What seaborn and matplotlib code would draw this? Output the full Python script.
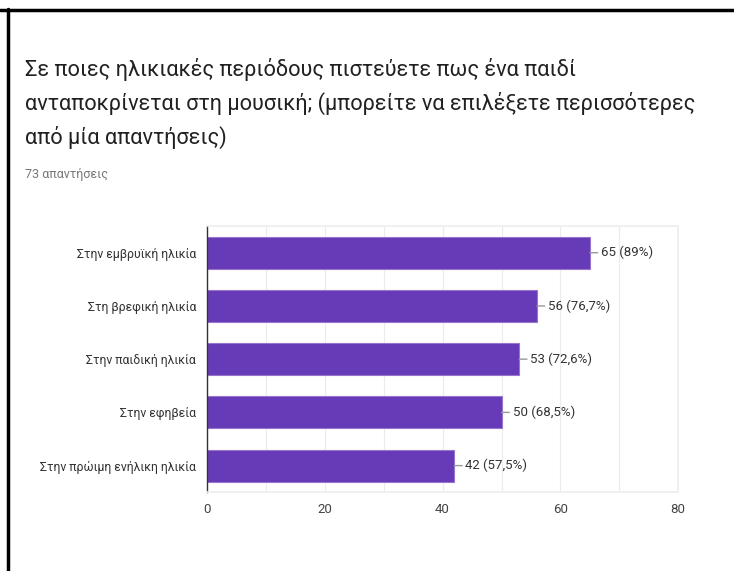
import matplotlib
matplotlib.use('Agg')
import matplotlib.pyplot as plt
from matplotlib.lines import Line2D
import seaborn as sns
import pandas as pd

# Δεδομένα
CATEGORIES = ['Στην εμβρυϊκή ηλικία', 'Στη βρεφική ηλικία', 'Στην παιδική ηλικία',
              'Στην εφηβεία', 'Στην πρώιμη ενήλικη ηλικία']
COUNTS = [65, 56, 53, 50, 42]
PERCENTS = ['89%', '76,7%', '72,6%', '68,5%', '57,5%']
X_TICKS = [0, 20, 40, 60, 80]

TITLE = ('Σε ποιες ηλικιακές περιόδους πιστεύετε πως ένα παιδί\n'
         'ανταποκρίνεται στη μουσική; (μπορείτε να επιλέξετε περισσότερες\n'
         'από μία απαντήσεις)')
SUBTITLE = '73 απαντήσεις'

PURPLE = '#673ab7'


def main():
    sns.set_theme(style='white')
    plt.rcParams['font.family'] = ['Roboto', 'DejaVu Sans']

    df = pd.DataFrame({'category': CATEGORIES, 'count': COUNTS})

    fig = plt.figure(figsize=(7.34, 5.71), dpi=100)
    ax = fig.add_axes([0.282, 0.138, 0.642, 0.466])

    sns.barplot(data=df, x='count', y='category', orient='h', color=PURPLE,
                saturation=1, width=0.6, edgecolor='#9575cd', linewidth=0.8, ax=ax)

    # Сетка
    ax.set_xlim(0, 80)
    ax.set_xticks(X_TICKS)
    ax.set_xticks(range(0, 81, 10), minor=True)
    ax.grid(axis='x', which='both', color='#ececec', linewidth=0.8)
    ax.set_axisbelow(True)
    ax.tick_params(axis='x', which='both', length=0, labelsize=9.5, colors='#444444', pad=8)
    ax.tick_params(axis='y', length=0, labelsize=8.8, colors='#333333', pad=8)
    ax.set_xlabel('')
    ax.set_ylabel('')

    for side in ['top', 'right', 'bottom']:
        ax.spines[side].set_color('#eeeeee')
        ax.spines[side].set_linewidth(1.2)
    ax.spines['left'].set_color('#333333')
    ax.spines['left'].set_linewidth(1.0)

    # Подписи значений
    for i, (cnt, pct) in enumerate(zip(COUNTS, PERCENTS)):
        ax.annotate(f'{cnt} ({pct})', xy=(cnt, i), xytext=(8, 0), textcoords='offset points',
                    va='center', ha='left', fontsize=9.5, color='#333333',
                    arrowprops=dict(arrowstyle='-', color='#999999', lw=1.0,
                                    shrinkA=0, shrinkB=0))

    fig.text(0.034, 0.898, TITLE, ha='left', va='top', fontsize=15.7,
             color='#212121', linespacing=1.6)
    fig.text(0.034, 0.695, SUBTITLE, ha='left', va='center', fontsize=9, color='#777777')

    # Рамка
    fig.add_artist(Line2D([0.0, 1.0], [0.983, 0.983], transform=fig.transFigure,
                          color='black', linewidth=2.5))
    fig.add_artist(Line2D([0.011, 0.011], [0.0, 0.985], transform=fig.transFigure,
                          color='black', linewidth=2.5))

    fig.savefig('out.png', dpi=100)


if __name__ == '__main__':
    main()
